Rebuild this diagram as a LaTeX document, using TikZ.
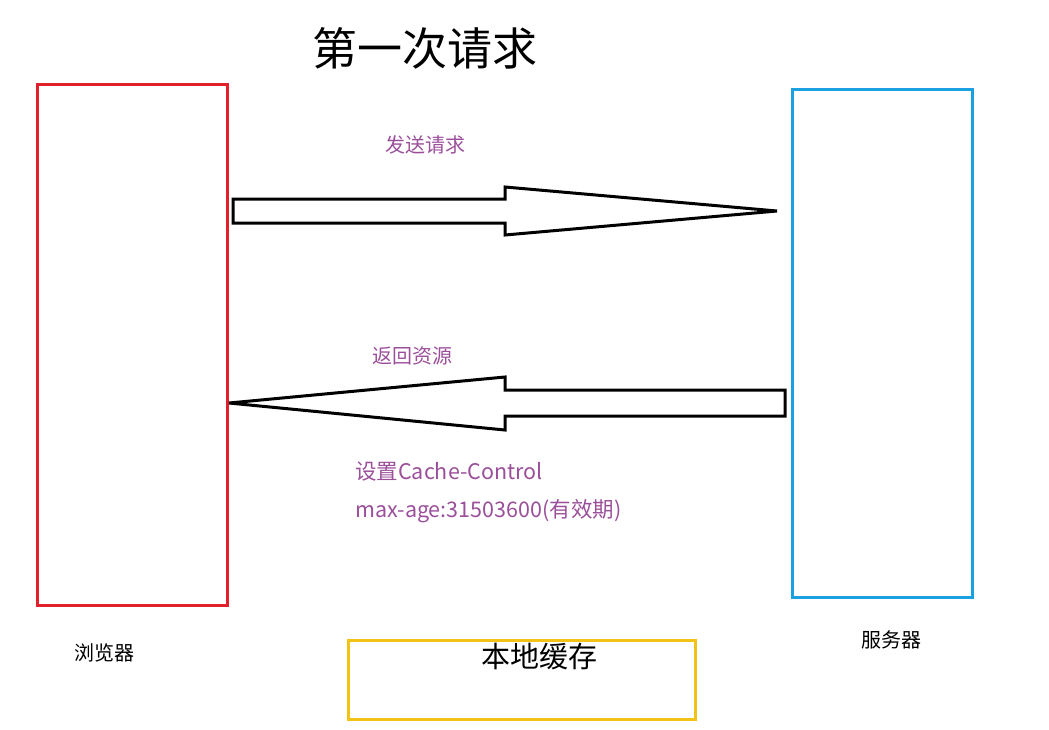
\documentclass[tikz,border=0pt]{standalone}
\usepackage{fontspec}
\setmainfont{Noto Sans CJK SC}
\definecolor{lbl}{HTML}{9B4F9B}
\definecolor{rbox}{HTML}{E0202A}
\definecolor{bbox}{HTML}{1BA1E2}
\definecolor{ybox}{HTML}{F2C314}
\tikzset{lab/.style={text=lbl,font=\fontsize{20}{22}\selectfont,inner sep=0pt},
 arr/.style={draw=black,line width=3pt,fill=white,line join=miter}}
\begin{document}
\begin{tikzpicture}[x=1pt,y=-1pt]
\useasboundingbox (0,0) rectangle (1049,729);
\draw[rbox,line width=3pt] (37,84) rectangle (227,605);
\node (browser) at (104,653) [font=\fontsize{20}{22}\selectfont] {浏览器};
\draw[bbox,line width=3pt] (792,89) rectangle (972,597);
\node (server) at (891,640) [font=\fontsize{20}{22}\selectfont] {服务器};
\draw[ybox,line width=3pt] (348,640) rectangle (695,719);
\node (cache) at (539,657) [font=\fontsize{29}{32}\selectfont] {本地缓存};
\node (title) at (425,48) [font=\fontsize{45}{48}\selectfont] {第一次请求};
\draw[arr] (233,199) -- (505,199) -- (505,187) -- (777,211) -- (505,235) -- (505,223) -- (233,223) -- cycle;
\draw[arr] (785,390) -- (505,390) -- (505,377) -- (229,403) -- (505,430) -- (505,416) -- (785,416) -- cycle;
\node[lab] (send) at (425,145) {发送请求};
\node[lab] (ret) at (412,356) {返回资源};
\node[lab,anchor=west,font=\fontsize{21.5}{24}\selectfont] (cc) at (355,472) {设置Cache-Control};
\node[lab,anchor=west,font=\fontsize{21.5}{24}\selectfont] (ma) at (355,511) {max-age:31503600(有效期)};
\end{tikzpicture}
\end{document}
